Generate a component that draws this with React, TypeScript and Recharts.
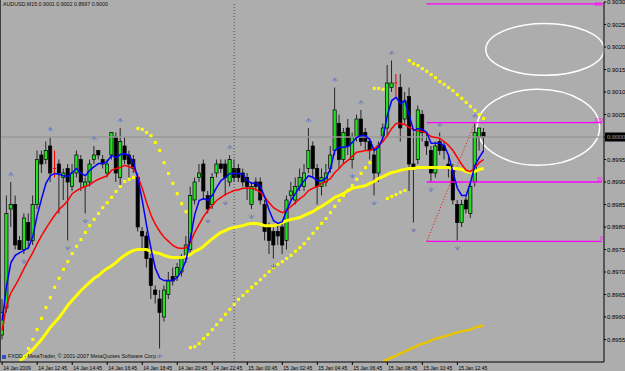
import React from 'react';
import {
  ComposedChart,
  Bar,
  Line,
  Scatter,
  XAxis,
  YAxis,
  ReferenceLine,
  ReferenceArea,
} from 'recharts';

// AUDUSD M15, 14 Jan 10:45 .. 15 Jan 14:15
const opens = [
  0.8956, 0.8962, 0.8984, 0.8985, 0.8977, 0.8975, 0.8981, 0.8977, 0.8985, 0.8996,
  0.8995, 0.8998, 0.8993, 0.8994, 0.8991, 0.8993, 0.8989, 0.8992, 0.8995, 0.8989,
  0.899, 0.8995, 0.8997, 0.8995, 0.8992, 0.8996, 0.9, 0.8991, 0.8998, 0.8996,
  0.8995, 0.8991, 0.8979, 0.8978, 0.8973, 0.8966, 0.8964, 0.896, 0.8965, 0.8969,
  0.8969, 0.897, 0.8973, 0.8975, 0.8986, 0.8991, 0.8994, 0.8987, 0.8985, 0.8992,
  0.8994, 0.8994, 0.899, 0.8993, 0.8993, 0.8992, 0.8991, 0.8985, 0.899, 0.899,
  0.8985, 0.898, 0.8979, 0.8979, 0.898, 0.8977, 0.8987, 0.8986, 0.8989, 0.8989,
  0.8993, 0.8998, 0.8993, 0.8989, 0.899, 0.8993, 0.8997, 0.9003, 0.8995, 0.9002,
  0.8995, 0.9, 0.9004, 0.9001, 0.8999, 0.8996, 0.8992, 0.9, 0.9002, 0.9011,
  0.9012, 0.9011, 0.9004, 0.9009, 0.8994, 0.8995, 0.9005, 0.8999, 0.8997, 0.8992,
  0.8999, 0.8998, 0.8994, 0.8993, 0.8985, 0.8981, 0.8986, 0.8983, 0.899, 0.9,
  0.9001,
];
const highs = [
  0.8964, 0.8987, 0.899, 0.8987, 0.8978, 0.8983, 0.8983, 0.8987, 0.8997, 0.8997,
  0.8999, 0.9, 0.8997, 0.8995, 0.8993, 0.8994, 0.8994, 0.8997, 0.8996, 0.8991,
  0.8995, 0.8998, 0.8997, 0.8996, 0.8995, 0.9001, 0.9001, 0.9002, 0.9, 0.8997,
  0.8996, 0.8992, 0.898, 0.8979, 0.8974, 0.8967, 0.8966, 0.8967, 0.897, 0.8971,
  0.8972, 0.8974, 0.8978, 0.8989, 0.8991, 0.8994, 0.8995, 0.8988, 0.8992, 0.8995,
  0.8995, 0.8995, 0.8996, 0.8995, 0.8994, 0.8993, 0.8992, 0.899, 0.8991, 0.8991,
  0.8986, 0.8981, 0.898, 0.8981, 0.8981, 0.8987, 0.899, 0.8991, 0.8993, 0.8994,
  0.9002, 0.8999, 0.8994, 0.8993, 0.8994, 0.8998, 0.9011, 0.9005, 0.9002, 0.9004,
  0.9001, 0.9005, 0.9006, 0.9002, 0.9, 0.8997, 0.8999, 0.9003, 0.9016, 0.9017,
  0.9014, 0.9014, 0.901, 0.9011, 0.9001, 0.9007, 0.9006, 0.9001, 0.8998, 0.8999,
  0.9001, 0.8999, 0.8996, 0.8994, 0.8986, 0.8986, 0.8987, 0.899, 0.9003, 0.9002,
  0.9002,
];
const lows = [
  0.8955, 0.8961, 0.898, 0.8975, 0.8975, 0.8974, 0.8975, 0.8976, 0.8984, 0.8992,
  0.8994, 0.899, 0.8991, 0.8983, 0.8986, 0.8977, 0.8988, 0.8991, 0.8988, 0.8983,
  0.8989, 0.8994, 0.8995, 0.8993, 0.8991, 0.8995, 0.899, 0.8989, 0.8994, 0.8991,
  0.8992, 0.8979, 0.8975, 0.8971, 0.8964, 0.8963, 0.8953, 0.8959, 0.8964, 0.8967,
  0.8968, 0.8969, 0.8972, 0.8974, 0.8985, 0.899, 0.8986, 0.8983, 0.8984, 0.8991,
  0.8992, 0.8987, 0.8989, 0.899, 0.899, 0.8989, 0.8986, 0.8984, 0.8988, 0.8985,
  0.8977, 0.8974, 0.8973, 0.8976, 0.8974, 0.8975, 0.8986, 0.8985, 0.8988, 0.8988,
  0.8992, 0.8991, 0.8985, 0.8987, 0.8989, 0.8992, 0.8996, 0.8993, 0.8994, 0.8996,
  0.8993, 0.8999, 0.8998, 0.8997, 0.8995, 0.8987, 0.899, 0.8999, 0.9, 0.901,
  0.9009, 0.8999, 0.9003, 0.8988, 0.8981, 0.8994, 0.8999, 0.8996, 0.899, 0.8991,
  0.8996, 0.8995, 0.8991, 0.8985, 0.8977, 0.898, 0.8983, 0.8982, 0.8989, 0.8997,
  0.8997,
];
const closes = [
  0.8961, 0.8983, 0.8985, 0.8976, 0.8975, 0.8982, 0.8977, 0.8985, 0.8995, 0.8994,
  0.8997, 0.8992, 0.8993, 0.8992, 0.8992, 0.899, 0.8992, 0.8996, 0.899, 0.899,
  0.8994, 0.8996, 0.8996, 0.8994, 0.8994, 0.9001, 0.8992, 0.8999, 0.8995, 0.8994,
  0.8993, 0.898, 0.8978, 0.8973, 0.8967, 0.8965, 0.8961, 0.8966, 0.8968, 0.8968,
  0.8971, 0.8973, 0.8976, 0.8987, 0.899, 0.8992, 0.8988, 0.8984, 0.8991, 0.8994,
  0.8993, 0.8991, 0.8995, 0.8991, 0.8991, 0.899, 0.8989, 0.8989, 0.8989, 0.8986,
  0.8979, 0.8977, 0.8976, 0.8978, 0.8976, 0.8986, 0.8988, 0.8989, 0.8991, 0.8992,
  0.8997, 0.8993, 0.8989, 0.8991, 0.8992, 0.8996, 0.9006, 0.8995, 0.9001, 0.8998,
  0.9, 0.9004, 0.8999, 0.8999, 0.8997, 0.8992, 0.8998, 0.9002, 0.9012, 0.9012,
  0.9012, 0.9002, 0.9008, 0.8994, 0.8993, 0.9006, 0.9001, 0.8998, 0.8992, 0.8998,
  0.8997, 0.8997, 0.8993, 0.8986, 0.8981, 0.8985, 0.8984, 0.8989, 0.9001, 0.9002,
  0.9,
];

// blue fast MA
const fastMa = [
  0.89592, 0.8967, 0.89721, 0.89737, 0.89743, 0.89748, 0.89754, 0.89779, 0.89826, 0.89863,
  0.89897, 0.89914, 0.89919, 0.89917, 0.89914, 0.89912, 0.89921, 0.8993, 0.89919, 0.89914,
  0.89926, 0.89934, 0.89941, 0.89941, 0.89946, 0.89959, 0.89954, 0.89961, 0.89963, 0.89959,
  0.89943, 0.89908, 0.89859, 0.89803, 0.89752, 0.89708, 0.89686, 0.89681, 0.89681, 0.89681,
  0.89688, 0.89703, 0.89726, 0.89774, 0.89828, 0.89859, 0.89863, 0.89859, 0.8987, 0.89888,
  0.89903, 0.8991, 0.89919, 0.89919, 0.89919, 0.89917, 0.89903, 0.89897, 0.89897, 0.8989,
  0.89866, 0.89837, 0.89814, 0.89808, 0.89812, 0.89837, 0.89859, 0.89874, 0.8989, 0.89903,
  0.89914, 0.8991, 0.89903, 0.89903, 0.89908, 0.8993, 0.8997, 0.89977, 0.89977, 0.89979,
  0.89988, 0.89999, 0.90003, 0.90003, 0.89994, 0.8997, 0.89977, 0.89999, 0.90048, 0.90081,
  0.90088, 0.90074, 0.90081, 0.90048, 0.90014, 0.90019, 0.90017, 0.9001, 0.89986, 0.89986,
  0.89986, 0.89981, 0.89959, 0.89921, 0.89886, 0.8987, 0.8987, 0.89899, 0.89937, 0.89954,
  0.8997,
];
// red slow MA
const slowMa = [
  0.8957, 0.89626, 0.89654, 0.8967, 0.89688, 0.89708, 0.89726, 0.89743, 0.89763, 0.89781,
  0.89797, 0.89812, 0.89826, 0.89839, 0.89848, 0.89859, 0.89874, 0.89881, 0.89886, 0.8989,
  0.89894, 0.89901, 0.89906, 0.8991, 0.89914, 0.89926, 0.8993, 0.89932, 0.89937, 0.89934,
  0.89932, 0.89912, 0.89886, 0.89854, 0.89826, 0.89806, 0.8979, 0.89777, 0.89768, 0.89759,
  0.89754, 0.89752, 0.89754, 0.89766, 0.89788, 0.89806, 0.89823, 0.89837, 0.89848, 0.89859,
  0.89866, 0.89872, 0.89877, 0.89881, 0.89883, 0.89886, 0.89886, 0.89886, 0.89883, 0.89877,
  0.89866, 0.89854, 0.89843, 0.89837, 0.89832, 0.89837, 0.89846, 0.89854, 0.89863, 0.8987,
  0.89881, 0.89886, 0.8989, 0.89897, 0.89901, 0.89908, 0.89921, 0.8993, 0.89941, 0.89948,
  0.89957, 0.89966, 0.89968, 0.8997, 0.8997, 0.89974, 0.89981, 0.8999, 0.90003, 0.90019,
  0.9003, 0.9003, 0.90028, 0.90021, 0.90017, 0.90014, 0.90012, 0.90008, 0.90001, 0.89999,
  0.89997, 0.8999, 0.89981, 0.8997, 0.89954, 0.89939, 0.89926, 0.89923, 0.89932, 0.89943,
  0.8995,
];
// yellow trend MA
const trendMa = [
  null, null, null, null, 0.89503, 0.8951, 0.89519, 0.89528, 0.89539, 0.8955,
  0.89563, 0.89577, 0.89588, 0.89599, 0.89612, 0.89626, 0.89637, 0.89648, 0.89659, 0.89668,
  0.89677, 0.89686, 0.89692, 0.89701, 0.89708, 0.89714, 0.89721, 0.8973, 0.89737, 0.89743,
  0.89748, 0.8975, 0.8975, 0.8975, 0.89746, 0.89743, 0.89741, 0.89737, 0.89734, 0.89732,
  0.89732, 0.89732, 0.89734, 0.89739, 0.89746, 0.8975, 0.89757, 0.89766, 0.89774, 0.89781,
  0.89788, 0.89792, 0.89797, 0.89799, 0.89801, 0.89803, 0.89806, 0.89808, 0.89808, 0.89806,
  0.89803, 0.89803, 0.89803, 0.89806, 0.8981, 0.89814, 0.89817, 0.89819, 0.89821, 0.89826,
  0.8983, 0.89834, 0.89841, 0.89846, 0.89852, 0.89859, 0.89866, 0.8987, 0.89874, 0.89881,
  0.89886, 0.89888, 0.8989, 0.89892, 0.89897, 0.89901, 0.89908, 0.89912, 0.89917, 0.89921,
  0.89923, 0.89926, 0.89928, 0.8993, 0.8993, 0.89932, 0.89932, 0.89932, 0.89932, 0.89932,
  0.89932, 0.89932, 0.89932, 0.8993, 0.8993, 0.89928, 0.89923, 0.89921, 0.89923, 0.89928,
  0.8993,
];
// gold long MA, starts at bar 87
const longStart = 87;
const longMa = [
  0.89501, 0.89506, 0.8951, 0.89514, 0.89519, 0.89523, 0.89528, 0.89532, 0.89537, 0.89541,
  0.89543, 0.89548, 0.89552, 0.89554, 0.89557, 0.89559, 0.89563, 0.89566, 0.89568, 0.8957,
  0.89572, 0.89577, 0.89579, 0.89581,
];
// parabolic SAR
const sar = [
  null, null, null, null, null, 0.89512, 0.8953, 0.8955, 0.89572, 0.89597,
  0.89621, 0.89643, 0.89666, 0.89686, 0.89706, 0.89723, 0.89741, 0.89757, 0.89772, 0.89788,
  0.89803, 0.89817, 0.8983, 0.89843, 0.89854, 0.89866, 0.89879, 0.8989, 0.89901, 0.89906,
  0.8991, 0.90019, 0.90017, 0.9001, 0.90003, 0.89988, 0.8997, 0.89943, 0.89919, 0.89897,
  0.89874, 0.89852, 0.89834, 0.89532, 0.89534, 0.89541, 0.89552, 0.89561, 0.89572, 0.89583,
  0.89594, 0.89606, 0.89617, 0.89628, 0.89639, 0.89648, 0.89657, 0.89666, 0.89674, 0.89683,
  0.89692, 0.89701, 0.8971, 0.89717, 0.89723, 0.8973, 0.89737, 0.89746, 0.89754, 0.89763,
  0.89774, 0.89786, 0.89797, 0.89808, 0.89819, 0.89832, 0.89846, 0.89859, 0.8987, 0.89881,
  0.89892, 0.89906, 0.89919, 0.89932, 0.89943, 0.90108, 0.90108, 0.90106, 0.89863, 0.89868,
  0.89872, 0.89877, 0.89881, 0.9017, 0.90163, 0.90159, 0.90152, 0.90146, 0.90139, 0.90132,
  0.90123, 0.90117, 0.9011, 0.90103, 0.90094, 0.90086, 0.90077, 0.90068, 0.90059, 0.9005,
  0.90041,
];
const fractalUp = [2, 11, 21, 27, 52, 70, 76, 82, 89, 100, 108];
const fractalDown = [5, 15, 19, 36, 47, 51, 57, 62, 80, 85, 94, 98, 104];

const timeLabels = [
  '14 Jan 2009', '14 Jan 12:45', '14 Jan 14:45', '14 Jan 16:45', '14 Jan 18:45',
  '14 Jan 20:45', '14 Jan 22:45', '15 Jan 00:45', '15 Jan 02:45', '15 Jan 04:45',
  '15 Jan 06:45', '15 Jan 08:45', '15 Jan 10:45', '15 Jan 12:45',
];
const priceTicks = [
  0.8955, 0.896, 0.8965, 0.897, 0.8975, 0.898, 0.8985, 0.899, 0.8995, 0.9,
  0.9005, 0.901, 0.9015, 0.902, 0.9025, 0.903,
];
const fibLevels = [0.89768, 0.899, 0.90032, 0.90296];
const fibNames = ['0', '50', '100', '200'];
const fibFrom = 97;
const fibTo = 137;
const dayBreak = 53;
const lastPrice = 0.9;
const slots = 138;

const rows = Array.from({ length: slots }, (_, i) => {
  const has = i < opens.length;
  return {
    idx: i,
    range: has ? [lows[i], highs[i]] : null,
    o: has ? opens[i] : null,
    h: has ? highs[i] : null,
    l: has ? lows[i] : null,
    c: has ? closes[i] : null,
    fast: has ? fastMa[i] : null,
    slow: has ? slowMa[i] : null,
    trend: has ? trendMa[i] : null,
    long:
      i >= longStart && i - longStart < longMa.length ? longMa[i - longStart] : null,
    sar: has ? sar[i] : null,
    fu: fractalUp.includes(i) ? highs[i] : null,
    fd: fractalDown.includes(i) ? lows[i] : null,
  };
});

const FONT = '"Liberation Sans", Arial, sans-serif';

const Candle = (props: any) => {
  const { x, y, width, height, payload } = props;
  if (!payload || payload.o == null) return null;
  const { o, h, l, c } = payload;
  const span = h - l || 1e-9;
  const toY = (p: number) => y + ((h - p) / span) * height;
  const cx = x + width / 2;
  if (o === c) {
    const yy = toY(o);
    return (
      <g>
        <line x1={cx} x2={cx} y1={y} y2={y + height} stroke='#ff0000' />
        <line x1={cx - 1.6} x2={cx + 1.6} y1={yy} y2={yy} stroke='#ff0000' />
      </g>
    );
  }
  const top = toY(Math.max(o, c));
  const bh = Math.max(1, toY(Math.min(o, c)) - top);
  return (
    <g>
      <line x1={cx} x2={cx} y1={y} y2={y + height} stroke='#262626' />
      <rect
        x={cx - 1.6}
        y={top}
        width={3.2}
        height={bh}
        fill={c > o ? '#22e022' : '#000'}
        stroke='#000'
        strokeWidth={0.7}
      />
    </g>
  );
};

const SarDot = (props: any) => {
  const { cx, cy } = props;
  if (!Number.isFinite(cx) || !Number.isFinite(cy)) return null;
  return <rect x={cx - 1.5} y={cy - 1.5} width={3} height={3} fill='#ffff00' />;
};

const ArrowUp = (props: any) => {
  const { cx, cy } = props;
  if (!Number.isFinite(cx) || !Number.isFinite(cy)) return null;
  return (
    <path
      transform={`translate(${cx},${cy - 8})`}
      d='M-2.5,1.5 L0,-1.5 L2.5,1.5 M0,-1.5 V2.5'
      stroke='#6a7cc0'
      fill='none'
    />
  );
};

const ArrowDown = (props: any) => {
  const { cx, cy } = props;
  if (!Number.isFinite(cx) || !Number.isFinite(cy)) return null;
  return (
    <path
      transform={`translate(${cx},${cy + 8})`}
      d='M-2.5,-1.5 L0,1.5 L2.5,-1.5 M0,1.5 V-2.5'
      stroke='#6a7cc0'
      fill='none'
    />
  );
};

const TimeTick = (props: any) => {
  const { x, payload } = props;
  const i = payload.value;
  if (i % 8 !== 0 || i / 8 >= timeLabels.length) return null;
  return (
    <g>
      <line x1={x} x2={x} y1={362} y2={365} stroke='#000' />
      <text x={x + 1} y={369.5} fontSize={5} fontFamily={FONT} fill='#000'>
        {timeLabels[i / 8]}
      </text>
    </g>
  );
};

const fibLabel = (name: string) => (p: any) => {
  const vb = p.viewBox ?? p;
  return (
    <text
      x={vb.x + vb.width + 1}
      y={Math.max(vb.y - 1, 5.5)}
      textAnchor='end'
      fontSize={5}
      fontFamily={FONT}
      fill='#ff00ff'
    >
      {name}
    </text>
  );
};

const priceTag = (p: any) => {
  const vb = p.viewBox ?? p;
  const x = vb.x + vb.width + 1;
  return (
    <g>
      <rect x={x} y={vb.y - 4.5} width={20} height={9} fill='#000' />
      <text x={x + 2} y={vb.y + 2} fontSize={6} fontFamily={FONT} fill='#fff'>
        {lastPrice.toFixed(4)}
      </text>
    </g>
  );
};

const ellipseShape = (p: any) => (
  <ellipse
    cx={p.x + p.width / 2}
    cy={p.y + p.height / 2}
    rx={p.width / 2}
    ry={p.height / 2}
    fill='none'
    stroke='#ffffff'
    strokeWidth={1.5}
  />
);

export default function App() {
  return (
    <div
      style={{
        position: 'fixed',
        left: 0,
        top: 0,
        width: 625,
        height: 371,
        background: '#adadad',
        overflow: 'hidden',
      }}
    >
      <ComposedChart
        width={625}
        height={371}
        data={rows}
        margin={{ top: 2, right: 0, bottom: 0, left: 0 }}
        barCategoryGap={0}
        barGap={0}
      >
        <XAxis
          dataKey='idx'
          type='category'
          interval={0}
          height={9}
          tick={<TimeTick />}
          tickLine={false}
          axisLine={{ stroke: '#000' }}
        />
        <YAxis
          orientation='right'
          domain={[0.895, 0.903]}
          allowDataOverflow
          ticks={priceTicks}
          interval={0}
          width={21}
          tickSize={2}
          tickMargin={1}
          tickFormatter={(v: number) => v.toFixed(4)}
          tick={{ fontSize: 6, fill: '#000', fontFamily: FONT }}
          axisLine={{ stroke: '#000' }}
          tickLine={{ stroke: '#000' }}
        />
        <ReferenceLine y={lastPrice} stroke='#9a9a9a' strokeWidth={1.5} label={priceTag} />
        <ReferenceLine x={dayBreak} stroke='#4a4a4a' strokeDasharray='1 2' />
        {fibLevels.map((lv, k) => (
          <ReferenceLine
            key={lv}
            segment={[
              { x: fibFrom, y: lv },
              { x: fibTo, y: lv },
            ]}
            stroke='#ff00ff'
            strokeWidth={1.3}
            label={fibLabel(fibNames[k])}
          />
        ))}
        <ReferenceLine
          segment={[
            { x: fibFrom, y: fibLevels[0] },
            { x: 108, y: fibLevels[2] },
          ]}
          stroke='#ff0000'
          strokeDasharray='1 2'
        />
        <ReferenceArea x1={111} x2={137} y1={0.90137} y2={0.90252} shape={ellipseShape} />
        <ReferenceArea x1={109} x2={136} y1={0.89937} y2={0.90106} shape={ellipseShape} />
        <Bar dataKey='range' shape={<Candle />} isAnimationActive={false} />
        <Line dataKey='trend' stroke='#ffff00' strokeWidth={3} dot={false} isAnimationActive={false} />
        <Line dataKey='long' stroke='#e8c400' strokeWidth={2.5} dot={false} isAnimationActive={false} />
        <Line dataKey='slow' stroke='#ff0000' strokeWidth={1.5} dot={false} isAnimationActive={false} />
        <Line dataKey='fast' stroke='#0000ff' strokeWidth={1.5} dot={false} isAnimationActive={false} />
        <Scatter dataKey='sar' shape={<SarDot />} isAnimationActive={false} />
        <Scatter dataKey='fu' shape={<ArrowUp />} isAnimationActive={false} />
        <Scatter dataKey='fd' shape={<ArrowDown />} isAnimationActive={false} />
      </ComposedChart>
      <div
        style={{
          position: 'absolute',
          left: 0,
          top: 0,
          width: 1,
          height: 362,
          background: '#404040',
        }}
      />
      <div
        style={{
          position: 'absolute',
          left: 3,
          top: 1,
          fontSize: 5.3,
          lineHeight: '7px',
          fontFamily: FONT,
          color: '#111',
          whiteSpace: 'nowrap',
        }}
      >
        AUDUSD,M15 0.9001 0.9002 0.8997 0.9000
      </div>
      <div
        style={{
          position: 'absolute',
          left: 2,
          top: 353,
          fontSize: 5.4,
          lineHeight: '7px',
          fontFamily: FONT,
          color: '#111',
          whiteSpace: 'nowrap',
          display: 'flex',
          alignItems: 'center',
        }}
      >
        <span
          style={{
            display: 'inline-block',
            width: 4,
            height: 4,
            background: '#3050c0',
            marginRight: 2,
          }}
        />
        FXDD - MetaTrader, © 2001-2007 MetaQuotes Software Corp.
      </div>
    </div>
  );
}
